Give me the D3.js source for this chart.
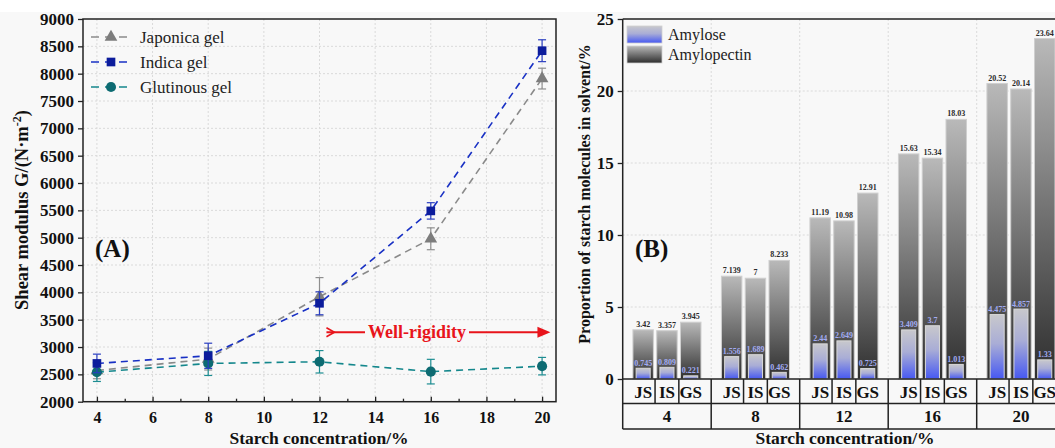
<!DOCTYPE html>
<html>
<head>
<meta charset="utf-8">
<script src="https://cdn.jsdelivr.net/npm/d3@7"></script>
<style>
  body { margin: 0; background: #fff; }
  svg { display: block; }
  svg text { font-family: 'Liberation Serif', 'Times New Roman', serif; }
  .axis path { display: none; }
  .axis line { stroke: #222; stroke-width: 1.3; }
  .axis text { font-weight: bold; font-size: 17px; fill: #111; }
  .axis.xa text { font-size: 16px; }
</style>
</head>
<body>
<svg id="canvas"></svg>
<script>
// ---- panel A data ----
var concentrations = [4, 8, 12, 16, 20];
var japonica = [2570, 2780, 3920, 4980, 7910];
var japonicaErr = [150, 200, 350, 200, 190];
var indica = [2700, 2840, 3800, 5490, 8420];
var indicaErr = [170, 230, 210, 150, 200];
var glutinous = [2540, 2700, 2730, 2550, 2650];
var glutinousErr = [170, 220, 205, 225, 160];
var seriesNames = ['Japonica gel', 'Indica gel', 'Glutinous gel'];
var yTicksA = d3.range(2000, 9001, 500);
var xTicksA = [4, 6, 8, 10, 12, 14, 16, 18, 20];

// ---- panel B data ----
var groups = ['4', '8', '12', '16', '20'];
var samples = ['JS', 'IS', 'GS'];
var amylopectin = {
  JS: [3.42, 7.139, 11.19, 15.63, 20.52],
  IS: [3.357, 7, 10.98, 15.34, 20.14],
  GS: [3.945, 8.233, 12.91, 18.03, 23.64]
};
var amylose = {
  JS: [0.745, 1.556, 2.44, 3.409, 4.475],
  IS: [0.809, 1.689, 2.649, 3.7, 4.857],
  GS: [0.221, 0.462, 0.725, 1.013, 1.33]
};
var yTicksB = [0, 5, 10, 15, 20, 25];

var width = 1055, height = 448,
    serif = "'Liberation Serif', 'Times New Roman', serif";

function draw() {
  var canvas = d3.select('#canvas').attr('width', width).attr('height', height);

  canvas.append('rect').attr('x', 0).attr('y', 12).attr('width', width).attr('height', height - 12)
    .attr('fill', '#f8f8f8');

  var defs = canvas.append('defs');
  var gPect = defs.append('linearGradient').attr('id', 'grad-pect')
    .attr('x1', 0).attr('y1', 0).attr('x2', 0).attr('y2', 1);
  gPect.append('stop').attr('offset', 0).attr('stop-color', '#b9b9b9');
  gPect.append('stop').attr('offset', 1).attr('stop-color', '#2e2e2e');
  var gAmy = defs.append('linearGradient').attr('id', 'grad-amy')
    .attr('x1', 0).attr('y1', 0).attr('x2', 0).attr('y2', 1);
  gAmy.append('stop').attr('offset', 0).attr('stop-color', '#c8c8cc');
  gAmy.append('stop').attr('offset', 0.45).attr('stop-color', '#a9add6');
  gAmy.append('stop').attr('offset', 1).attr('stop-color', '#4658f2');

  drawPanelA(canvas);
  drawPanelB(canvas);

  canvas.selectAll('.axis').attr('font-family', serif);
}

function drawPanelA(canvas) {
  var x = d3.scaleLinear().domain([3.5, 20.5]).range([83, 556]),
      y = d3.scaleLinear().domain([2000, 9000]).range([401.7, 19]),
      g = canvas.append('g');

  // GRID
  g.selectAll('line.vgrid').data(xTicksA).enter().append('line')
    .attr('x1', x).attr('x2', x).attr('y1', y(9000)).attr('y2', y(2000))
    .attr('stroke', '#dadada').attr('stroke-dasharray', '2,2');
  g.selectAll('line.hgrid').data(yTicksA.slice(1, -1)).enter().append('line')
    .attr('x1', x(3.5)).attr('x2', x(20.5)).attr('y1', y).attr('y2', y)
    .attr('stroke', '#dadada').attr('stroke-dasharray', '2,2');

  // AXES
  g.append('g').attr('class', 'axis')
    .attr('transform', 'translate(' + x(3.5) + ',0)')
    .call(d3.axisLeft(y).tickValues(yTicksA).tickFormat(d3.format('d')).tickSize(5).tickPadding(4));
  g.append('g').attr('class', 'axis xa')
    .attr('transform', 'translate(0,' + y(2000) + ')')
    .call(d3.axisBottom(x).tickValues(xTicksA).tickSize(-5).tickPadding(10));
  g.append('g').attr('class', 'axis minor')
    .attr('transform', 'translate(0,' + y(2000) + ')')
    .call(d3.axisBottom(x).tickValues(d3.range(5, 20, 2)).tickSize(-3).tickFormat(''))
    .selectAll('text').remove();

  g.append('rect')
    .attr('x', x(3.5)).attr('y', y(9000))
    .attr('width', x(20.5) - x(3.5)).attr('height', y(2000) - y(9000))
    .attr('fill', 'none').attr('stroke', '#222').attr('stroke-width', 1.5);

  // SERIES
  var series = [
    {name: seriesNames[0], values: japonica, err: japonicaErr, line: '#8a8a8a', mark: '#7d7d7d', errc: '#8f8f8f', symbol: d3.symbolTriangle, size: 70},
    {name: seriesNames[2], values: glutinous, err: glutinousErr, line: '#14878c', mark: '#0d6b72', errc: '#1d8d92', symbol: d3.symbolCircle, size: 80},
    {name: seriesNames[1], values: indica, err: indicaErr, line: '#1830c4', mark: '#0c1c9c', errc: '#2a3ec0', symbol: d3.symbolSquare, size: 75}
  ];

  var line = d3.line()
    .x(function(d) { return x(d[0]); })
    .y(function(d) { return y(d[1]); });

  series.forEach(function(s) {
    var pts = concentrations.map(function(c, i) { return [c, s.values[i], s.err[i]]; });
    var sg = g.append('g');

    sg.append('path')
      .attr('d', line(pts))
      .attr('fill', 'none')
      .attr('stroke', s.line)
      .attr('stroke-width', 1.6)
      .attr('stroke-dasharray', '7,5');

    // error bars
    var eb = sg.selectAll('g.err').data(pts).enter().append('g')
      .attr('stroke', s.errc).attr('stroke-width', 1.2);
    eb.append('line')
      .attr('x1', function(d) { return x(d[0]); }).attr('x2', function(d) { return x(d[0]); })
      .attr('y1', function(d) { return y(d[1] + d[2]); }).attr('y2', function(d) { return y(d[1] - d[2]); });
    eb.append('line')
      .attr('x1', function(d) { return x(d[0]) - 4; }).attr('x2', function(d) { return x(d[0]) + 4; })
      .attr('y1', function(d) { return y(d[1] + d[2]); }).attr('y2', function(d) { return y(d[1] + d[2]); });
    eb.append('line')
      .attr('x1', function(d) { return x(d[0]) - 4; }).attr('x2', function(d) { return x(d[0]) + 4; })
      .attr('y1', function(d) { return y(d[1] - d[2]); }).attr('y2', function(d) { return y(d[1] - d[2]); });

    sg.selectAll('path.mark').data(pts).enter().append('path')
      .attr('d', d3.symbol().type(s.symbol).size(s.size))
      .attr('transform', function(d) { return 'translate(' + x(d[0]) + ',' + y(d[1]) + ')'; })
      .attr('fill', s.mark);
  });

  // LEGEND
  var legendOrder = [series[0], series[2], series[1]];
  var leg = g.selectAll('g.legend').data(legendOrder).enter().append('g')
    .attr('transform', function(d, i) { return 'translate(90,' + (37 + i * 25) + ')'; });
  leg.append('line').attr('x1', 0).attr('x2', 42).attr('y1', 0).attr('y2', 0)
    .attr('stroke', function(d) { return d.line; }).attr('stroke-width', 1.6)
    .attr('stroke-dasharray', '8,6').attr('stroke-dashoffset', -1);
  leg.append('path')
    .attr('d', function(d) { return d3.symbol().type(d.symbol).size(d.size)(); })
    .attr('transform', 'translate(21,0)')
    .attr('fill', function(d) { return d.mark; });
  leg.append('text').attr('x', 50).attr('dy', '0.35em')
    .style('font-size', '17px').attr('fill', '#222')
    .text(function(d) { return d.name; });

  // ANNOTATIONS
  g.append('text').attr('x', 95).attr('y', 257)
    .style('font-size', '25px').style('font-weight', 'bold').attr('fill', '#111')
    .text('(A)');

  var ay = y(3270), red = '#e8141b';
  g.append('path')
    .attr('d', 'M' + x(12.25) + ',' + (ay - 4.5) + ' L' + (x(12.25) + 8) + ',' + ay + ' L' + x(12.25) + ',' + (ay + 4.5))
    .attr('fill', 'none').attr('stroke', red).attr('stroke-width', 1.6);
  g.append('line').attr('x1', x(12.25)).attr('x2', 365).attr('y1', ay).attr('y2', ay)
    .attr('stroke', red).attr('stroke-width', 1.8);
  g.append('line').attr('x1', 469).attr('x2', x(20.3) - 8).attr('y1', ay).attr('y2', ay)
    .attr('stroke', red).attr('stroke-width', 1.8);
  g.append('path')
    .attr('d', 'M' + x(20.3) + ',' + ay + ' L' + (x(20.3) - 13) + ',' + (ay - 5.5) + ' L' + (x(20.3) - 13) + ',' + (ay + 5.5) + 'Z')
    .attr('fill', red);
  g.append('text').attr('x', 417).attr('y', ay).attr('dy', '0.33em')
    .attr('text-anchor', 'middle').attr('fill', red)
    .style('font-size', '18px').style('font-weight', 'bold')
    .text('Well-rigidity');

  // AXIS TITLES
  var yt = g.append('text')
    .attr('transform', 'translate(28,210) rotate(-90)')
    .attr('text-anchor', 'middle').attr('fill', '#111')
    .style('font-size', '18.5px').style('font-weight', 'bold');
  yt.append('tspan').text('Shear modulus G/(N\u00b7m');
  yt.append('tspan').attr('dy', -7).style('font-size', '12px').text('-2');
  yt.append('tspan').attr('dy', 7).text(')');

  g.append('text').attr('x', 319).attr('y', 443.5)
    .attr('text-anchor', 'middle').attr('fill', '#111')
    .style('font-size', '17.5px').style('font-weight', 'bold')
    .text('Starch concentration/%');
}

function drawPanelB(canvas) {
  var x0 = d3.scaleBand().domain(groups).range([622.7, 1065.2]),
      x1 = d3.scaleBand().domain(samples).range([0, x0.bandwidth()]).paddingInner(0.14).paddingOuter(0.43),
      y = d3.scaleLinear().domain([0, 25]).range([379, 19]),
      left = x0.range()[0], right = x0.range()[1],
      row1 = 403.5, row2 = 429,
      g = canvas.append('g');

  // GRID
  g.selectAll('line.hgrid').data(yTicksB.slice(1, -1)).enter().append('line')
    .attr('x1', left).attr('x2', right).attr('y1', y).attr('y2', y)
    .attr('stroke', '#dadada').attr('stroke-dasharray', '2,2');
  g.selectAll('line.vgrid').data(groups.slice(1)).enter().append('line')
    .attr('x1', x0).attr('x2', x0).attr('y1', y(25)).attr('y2', y(0))
    .attr('stroke', '#dadada').attr('stroke-dasharray', '2,2');

  // BARS
  var cells = [];
  groups.forEach(function(grp, gi) {
    samples.forEach(function(s) {
      cells.push({group: grp, sample: s, total: amylopectin[s][gi], amy: amylose[s][gi]});
    });
  });

  var bw = x1.bandwidth(), inset = 3.2;
  var bar = g.selectAll('g.bar').data(cells).enter().append('g')
    .attr('transform', function(d) { return 'translate(' + (x0(d.group) + x1(d.sample)) + ',0)'; });

  bar.append('rect')
    .attr('x', 0).attr('width', bw)
    .attr('y', function(d) { return y(d.total); })
    .attr('height', function(d) { return y(0) - y(d.total); })
    .attr('fill', 'url(#grad-pect)').attr('stroke', '#cfcfcf').attr('stroke-width', 1);
  bar.append('rect')
    .attr('x', inset).attr('width', bw - 2 * inset)
    .attr('y', function(d) { return y(d.amy); })
    .attr('height', function(d) { return y(0) - y(d.amy); })
    .attr('fill', 'url(#grad-amy)').attr('stroke', '#d8d8d8').attr('stroke-width', 1);
  bar.append('text')
    .attr('x', bw / 2).attr('y', function(d) { return y(d.total) - 3; })
    .attr('text-anchor', 'middle').attr('fill', '#2a2a2a')
    .style('font-size', '8px').style('font-weight', 'bold')
    .text(function(d) { return d.total; });
  bar.append('text')
    .attr('x', bw / 2).attr('y', function(d) { return y(d.amy) - 2.5; })
    .attr('text-anchor', 'middle').attr('fill', '#a3acf3')
    .style('font-size', '8px').style('font-weight', 'bold')
    .text(function(d) { return d.amy; });

  // AXIS
  g.append('g').attr('class', 'axis')
    .attr('transform', 'translate(' + left + ',0)')
    .call(d3.axisLeft(y).tickValues(yTicksB).tickSize(5).tickPadding(4));

  // FRAME + CATEGORY TABLE
  var frame = g.append('g').attr('stroke', '#222').attr('stroke-width', 1.5).attr('fill', 'none');
  frame.append('line').attr('x1', left).attr('x2', left).attr('y1', y(25)).attr('y2', row2);
  frame.append('line').attr('x1', left).attr('x2', right).attr('y1', y(25)).attr('y2', y(25));
  frame.append('line').attr('x1', right).attr('x2', right).attr('y1', y(25)).attr('y2', row2);
  frame.append('line').attr('x1', left).attr('x2', right).attr('y1', y(0)).attr('y2', y(0));
  frame.append('line').attr('x1', left).attr('x2', right).attr('y1', row1).attr('y2', row1);
  frame.append('line').attr('x1', left).attr('x2', right).attr('y1', row2).attr('y2', row2);
  frame.selectAll('line.gsep').data(groups.slice(1)).enter().append('line')
    .attr('x1', x0).attr('x2', x0).attr('y1', y(0)).attr('y2', row2);
  var gap = x1.step() - bw;
  groups.forEach(function(grp) {
    ['IS', 'GS'].forEach(function(s) {
      var sx = x0(grp) + x1(s) - gap / 2;
      frame.append('line').attr('x1', sx).attr('x2', sx).attr('y1', y(0)).attr('y2', row1);
    });
  });

  g.selectAll('text.sample').data(cells).enter().append('text')
    .attr('x', function(d) { return x0(d.group) + x1(d.sample) + bw / 2; })
    .attr('y', 398).attr('text-anchor', 'middle').attr('fill', '#111')
    .style('font-size', '17px').style('font-weight', 'bold')
    .text(function(d) { return d.sample; });
  g.selectAll('text.group').data(groups).enter().append('text')
    .attr('x', function(d) { return x0(d) + x0.bandwidth() / 2; })
    .attr('y', 422).attr('text-anchor', 'middle').attr('fill', '#111')
    .style('font-size', '17px').style('font-weight', 'bold')
    .text(function(d) { return d; });

  // LEGEND
  var legItems = [{name: 'Amylose', fill: 'url(#grad-amy)'}, {name: 'Amylopectin', fill: 'url(#grad-pect)'}];
  var leg = g.selectAll('g.legend').data(legItems).enter().append('g')
    .attr('transform', function(d, i) { return 'translate(627,' + (26 + i * 20) + ')'; });
  leg.append('rect').attr('width', 35).attr('height', 17)
    .attr('fill', function(d) { return d.fill; }).attr('stroke', '#d0d0d0').attr('stroke-width', 0.8);
  leg.append('text').attr('x', 41).attr('y', 8.5).attr('dy', '0.35em')
    .style('font-size', '16px').attr('fill', '#222')
    .text(function(d) { return d.name; });

  g.append('text').attr('x', 635).attr('y', 257)
    .style('font-size', '25px').style('font-weight', 'bold').attr('fill', '#111')
    .text('(B)');

  // AXIS TITLES
  g.append('text')
    .attr('transform', 'translate(590,194) rotate(-90)')
    .attr('text-anchor', 'middle').attr('fill', '#111')
    .style('font-size', '16px').style('font-weight', 'bold')
    .text('Proportion of starch molecules in solvent/%');
  g.append('text').attr('x', 845).attr('y', 443.5)
    .attr('text-anchor', 'middle').attr('fill', '#111')
    .style('font-size', '17.5px').style('font-weight', 'bold')
    .text('Starch concentration/%');
}

window.onload = draw;
</script>
</body>
</html>
